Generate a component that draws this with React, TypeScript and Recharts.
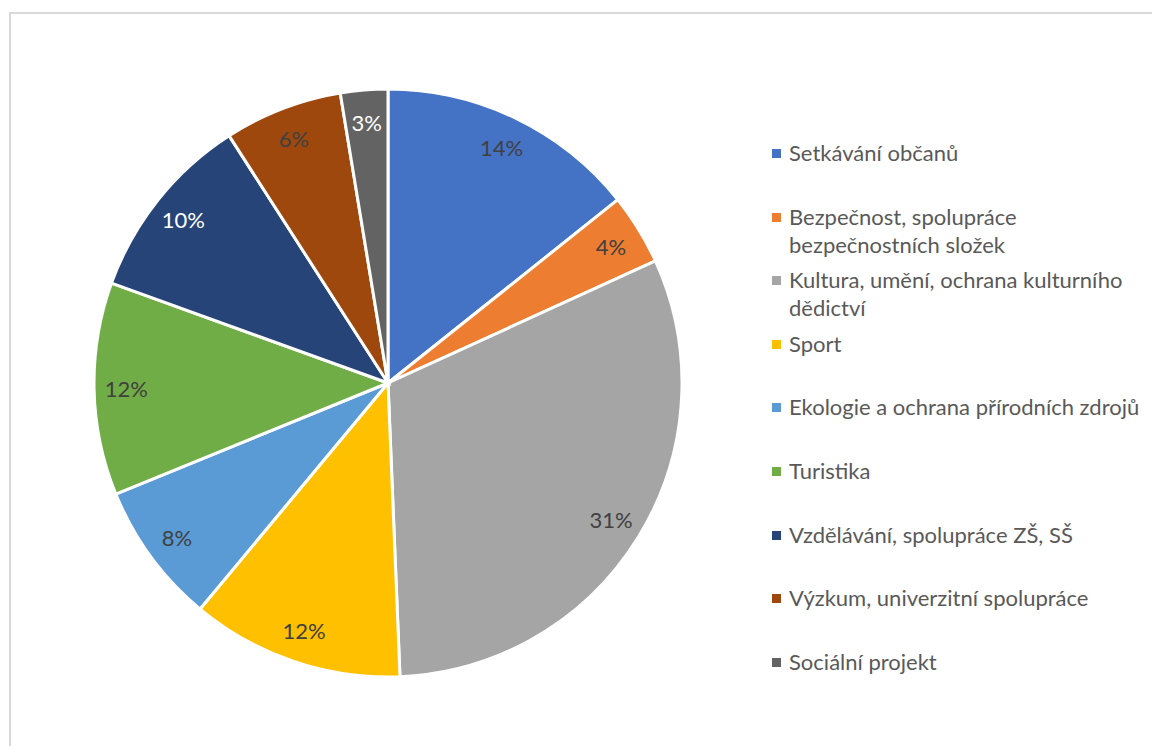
import React from "react";
import { PieChart, Pie, Cell, Legend } from "recharts";

const categories = [
  "Setkávání občanů",
  "Bezpečnost, spolupráce bezpečnostních složek",
  "Kultura, umění, ochrana kulturního dědictví",
  "Sport",
  "Ekologie a ochrana přírodních zdrojů",
  "Turistika",
  "Vzdělávání, spolupráce ZŠ, SŠ",
  "Výzkum, univerzitní spolupráce",
  "Sociální projekt",
];
const counts = [11, 3, 24, 9, 6, 9, 8, 5, 2];
const colors = ["#4472C4", "#ED7D31", "#A5A5A5", "#FFC000", "#5B9BD5", "#70AD47", "#264478", "#9E480E", "#636363"];
const labelColors = ["#404040", "#404040", "#404040", "#404040", "#404040", "#404040", "#FFFFFF", "#404040", "#FFFFFF"];

const data = categories.map((name, i) => ({ name, value: counts[i] }));

const FONT = "Lato, 'Open Sans', sans-serif";
const RAD = Math.PI / 180;

const renderLabel = (props: any) => {
  const { cx, cy, midAngle, outerRadius, percent, index } = props;
  const r = outerRadius * 0.89;
  const x = cx + r * Math.cos(-midAngle * RAD);
  const y = cy + r * Math.sin(-midAngle * RAD);
  return (
    <text
      x={x}
      y={y}
      fill={labelColors[index]}
      textAnchor="middle"
      dominantBaseline="central"
      fontSize={22}
      fontFamily={FONT}
    >
      {`${Math.round(percent * 100)}%`}
    </text>
  );
};

const renderLegend = () => {
  return (
    <div style={{ fontFamily: FONT, fontSize: 22, color: "#595959" }}>
      {categories.map((name, i) => (
        <div key={name} style={{ height: 63.6, display: "flex", alignItems: "flex-start" }}>
          <div style={{ width: 9, height: 9, background: colors[i], marginTop: 10, marginRight: 8, flexShrink: 0 }} />
          <div style={{ lineHeight: "28px", width: 352 }}>{name}</div>
        </div>
      ))}
    </div>
  );
};

export default function App() {
  return (
    <div style={{ position: "absolute", left: 0, top: 0, width: 1152, height: 746, background: "#fff", overflow: "hidden" }}>
      <div
        style={{
          position: "absolute",
          left: 9,
          top: 12,
          width: 1200,
          height: 800,
          border: "2px solid #D9D9D9",
        }}
      />
      <div style={{ position: "absolute", left: 0, top: 0 }}>
        <PieChart width={1152} height={746}>
          <Pie
            data={data}
            dataKey="value"
            nameKey="name"
            cx={383}
            cy={378}
            outerRadius={294}
            startAngle={90}
            endAngle={-270}
            stroke="#FFFFFF"
            strokeWidth={3}
            label={renderLabel}
            labelLine={false}
            isAnimationActive={false}
          >
            {data.map((d, i) => (
              <Cell key={d.name} fill={colors[i]} />
            ))}
          </Pie>
          <Legend
            content={renderLegend}
            wrapperStyle={{ position: "absolute", left: 772, top: 139, width: 380 }}
          />
        </PieChart>
      </div>
    </div>
  );
}
